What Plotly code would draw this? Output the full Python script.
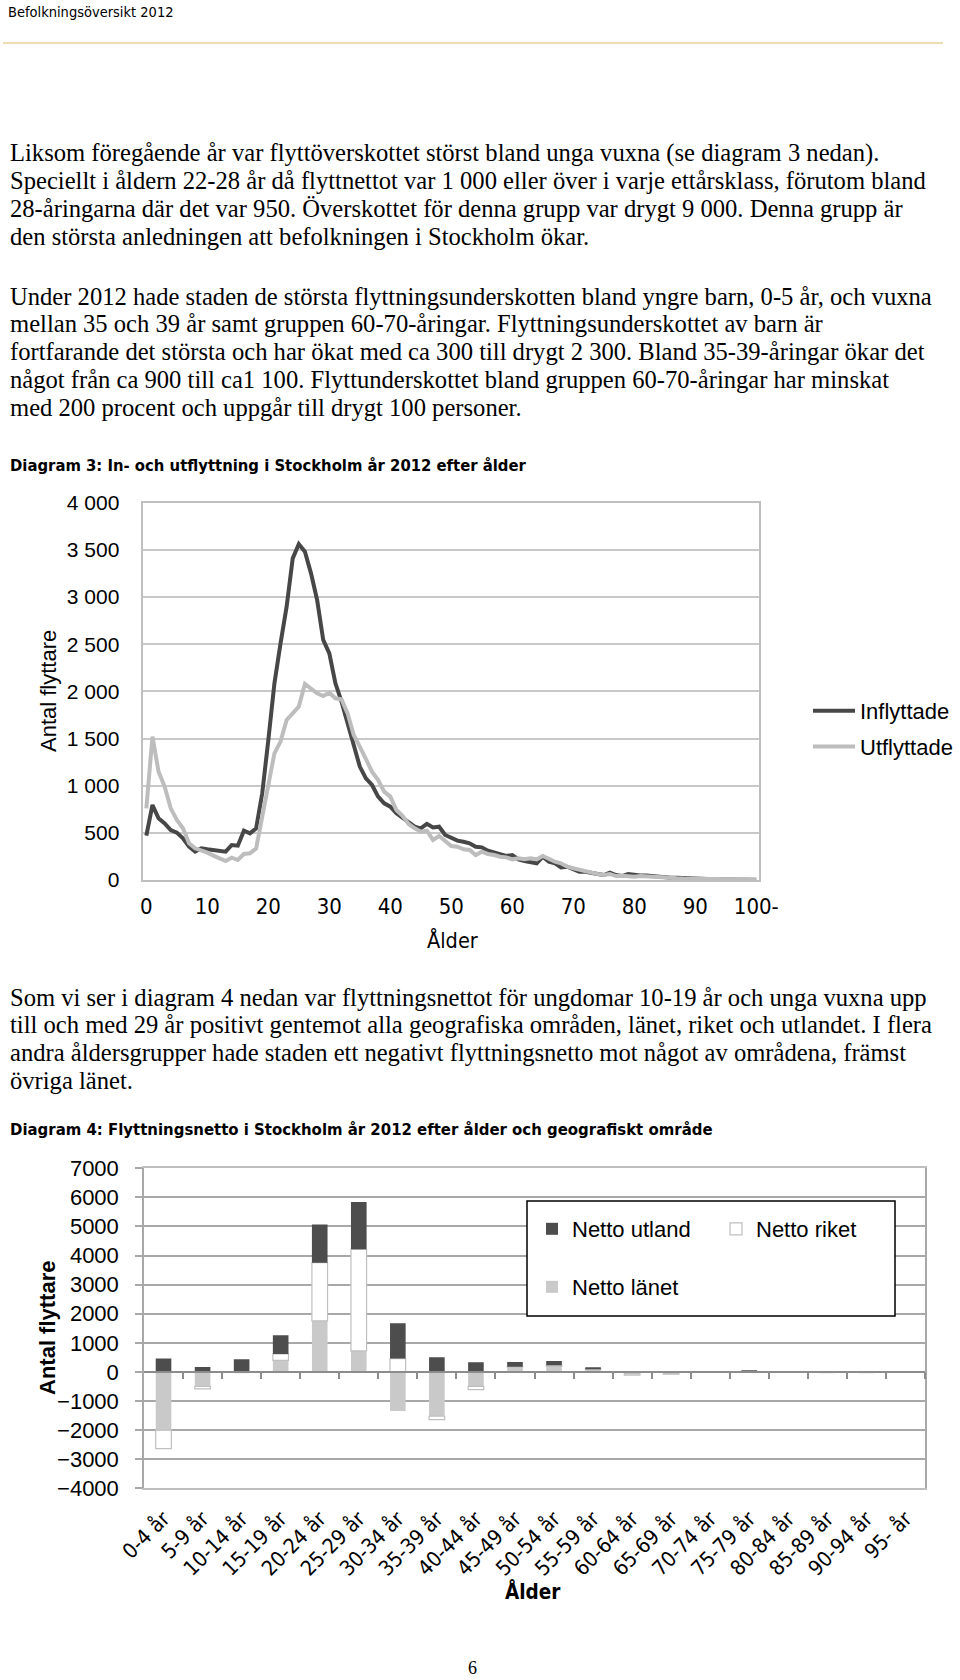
import plotly.graph_objects as go

W, H = 960, 1680


def px(x):
    return x / W


def py(y):
    return 1 - y / H


SERIF = "Liberation Serif, Times New Roman, serif"
SANS = "Liberation Sans, Arial, sans-serif"
NARROW = "DejaVu Sans Condensed, Liberation Sans Narrow, Arial Narrow, sans-serif"

# ---------------- Diagram 3 data ----------------
ages = list(range(101))
inflyttade = [470, 795, 654, 600, 530, 502, 442, 353, 300, 336,
              325, 318, 311, 300, 371, 364, 523, 495, 548, 919,
              1484, 2085, 2509, 2898, 3410, 3562, 3481, 3251, 2969, 2545,
              2403, 2085, 1891, 1643, 1431, 1202, 1078, 1007, 884, 813,
              777, 707, 660, 600, 565, 548, 595, 558, 565, 477,
              452, 417, 406, 389, 353, 346, 311, 290, 265, 254,
              265, 219, 201, 187, 177, 247, 194, 177, 134, 141,
              113, 88, 88, 71, 64, 53, 78, 53, 42, 64,
              53, 49, 49, 42, 35, 28, 25, 25, 21, 18,
              14, 10, 8, 7, 5, 4, 3, 2, 2, 1, 2]
utflyttade = [760, 1520, 1149, 990, 760, 636, 548, 389, 336, 318,
              290, 258, 230, 201, 237, 212, 276, 283, 336, 671,
              1060, 1343, 1467, 1696, 1767, 1838, 2078, 2032, 1979, 1951,
              1986, 1926, 1915, 1767, 1537, 1414, 1290, 1149, 1060, 937,
              884, 742, 680, 594, 548, 512, 523, 424, 466, 406,
              360, 353, 325, 318, 265, 300, 276, 265, 247, 240,
              219, 230, 219, 230, 219, 254, 219, 194, 177, 141,
              124, 106, 88, 78, 64, 53, 64, 42, 46, 42,
              35, 42, 35, 35, 32, 25, 20, 18, 15, 14,
              12, 10, 8, 6, 5, 4, 3, 3, 2, 2, 3]
age_tickvals = [0, 10, 20, 30, 40, 50, 60, 70, 80, 90, 100]
age_ticktext = ["0", "10", "20", "30", "40", "50", "60", "70", "80", "90", "100-"]
y1_tickvals = [0, 500, 1000, 1500, 2000, 2500, 3000, 3500, 4000]
y1_ticktext = ["0", "500", "1 000", "1 500", "2 000", "2 500", "3 000", "3 500", "4 000"]

# ---------------- Diagram 4 data ----------------
groups = ["0-4 år", "5-9 år", "10-14 år", "15-19 år", "20-24 år", "25-29 år",
          "30-34 år", "35-39 år", "40-44 år", "45-49 år", "50-54 år", "55-59 år",
          "60-64 år", "65-69 år", "70-74 år", "75-79 år", "80-84 år", "85-89 år",
          "90-94 år", "95- år"]
netto_lanet = [-2005, -493, -30, 400, 1753, 722, -1340, -1523, -493, 172,
               200, 80, -60, -60, -10, 0, 0, -20, -30, 0]
netto_riket = [-630, -92, 10, 218, 2004, 3493, 458, -115, -115, 10,
               30, 20, -50, -20, 0, 0, 0, 0, 0, 0]
netto_utland = [458, 172, 430, 640, 1310, 1627, 1214, 504, 332, 160,
                150, 50, 20, 10, 10, 30, 0, 0, 0, 0]
y2_range = [-4000, 7000]
y2_tickvals = [-4000, -3000, -2000, -1000, 0, 1000, 2000, 3000, 4000, 5000, 6000, 7000]

fig = go.Figure()

# Diagram 3 lines
fig.add_trace(go.Scatter(x=ages, y=inflyttade, mode="lines", name="Inflyttade",
                         line=dict(color="#474747", width=4), xaxis="x", yaxis="y",
                         legend="legend", legendgroup="in"))
fig.add_trace(go.Scatter(x=ages, y=utflyttade, mode="lines", name="Utflyttade",
                         line=dict(color="#BDBDBD", width=4), xaxis="x", yaxis="y",
                         legend="legend", legendgroup="ut"))

# Diagram 4 stacked bars
fig.add_trace(go.Bar(x=groups, y=netto_lanet, name="Netto länet",
                     marker=dict(color="#C9C9C9", line=dict(width=0)),
                     xaxis="x2", yaxis="y2", legend="legend3"))
fig.add_trace(go.Bar(x=groups, y=netto_riket, name="Netto riket",
                     marker=dict(color="white", line=dict(color="#BFBFBF", width=1.2)),
                     xaxis="x2", yaxis="y2", legend="legend2", legendrank=2))
fig.add_trace(go.Bar(x=groups, y=netto_utland, name="Netto utland",
                     marker=dict(color="#4D4D4D", line=dict(width=0)),
                     xaxis="x2", yaxis="y2", legend="legend2", legendrank=1))
# carrier for the zero-line axis with category boundary ticks
fig.add_trace(go.Scatter(x=[], y=[], xaxis="x3", yaxis="y2", showlegend=False,
                         hoverinfo="skip"))

y1_dom = [py(880), py(502.7)]
y2_dom = [py(1488.3), py(1168.3)]
zero_pos = y2_dom[0] + (0 - y2_range[0]) / (y2_range[1] - y2_range[0]) * (y2_dom[1] - y2_dom[0])

fig.update_layout(
    width=W, height=H, margin=dict(l=0, r=0, t=0, b=0, autoexpand=False),
    paper_bgcolor="white", plot_bgcolor="white",
    barmode="relative", bargap=0.6,
    showlegend=True,
    xaxis=dict(domain=[px(143.3), px(759.3)], range=[-0.5, 100.5], anchor="y",
               tickmode="array", tickvals=age_tickvals, ticktext=age_ticktext,
               tickfont=dict(family=NARROW, size=22, color="black"),
               showgrid=False, zeroline=False, showline=True, mirror=True,
               linecolor="#BFBFBF", linewidth=1.5, ticks="", ticklabelstandoff=6),
    yaxis=dict(domain=y1_dom, range=[0, 4000], anchor="x",
               tickmode="array", tickvals=y1_tickvals, ticktext=y1_ticktext,
               tickfont=dict(family=SANS, size=21, color="black"),
               showgrid=True, gridcolor="#C8C8C8", gridwidth=1.5, zeroline=False,
               showline=True, mirror=True, linecolor="#BFBFBF", linewidth=1.5,
               ticks="", ticklabelstandoff=18),
    xaxis2=dict(domain=[px(144), px(925)], anchor="y2", type="category",
                tickangle=-45, tickfont=dict(family=NARROW, size=21, color="black"),
                showgrid=False, zeroline=False, showline=True, mirror=True,
                linecolor="#BFBFBF", linewidth=1.5, ticks="", ticklabelstandoff=8),
    yaxis2=dict(domain=y2_dom, range=y2_range, anchor="x2",
                tickmode="array", tickvals=y2_tickvals,
                tickfont=dict(family=SANS, size=22, color="black"),
                showgrid=True, gridcolor="#A8A8A8", gridwidth=1.5, zeroline=False,
                showline=True, mirror=True, linecolor="#A8A8A8", linewidth=1.5,
                ticks="outside", ticklen=7, tickcolor="#A8A8A8", tickwidth=1.5,
                ticklabelstandoff=12),
    xaxis3=dict(overlaying="x2", anchor="free", position=zero_pos, side="bottom",
                range=[-0.5, 19.5], tickmode="array",
                tickvals=[i + 0.5 for i in range(len(groups))],
                ticks="outside", ticklen=6, tickcolor="#8C8C8C", tickwidth=1.5,
                showticklabels=False, showgrid=False, zeroline=False,
                showline=True, linecolor="#8C8C8C", linewidth=1.5),
    legend=dict(x=px(808), y=py(690), xanchor="left", yanchor="top",
                font=dict(family=SANS, size=22, color="black"),
                itemwidth=42, tracegroupgap=4, traceorder="grouped",
                bgcolor="rgba(0,0,0,0)"),
    legend2=dict(x=px(532), y=py(1229), xanchor="left", yanchor="middle",
                 orientation="h", entrywidth=139,
                 font=dict(family=SANS, size=22, color="black"),
                 bgcolor="rgba(0,0,0,0)"),
    legend3=dict(x=px(532), y=py(1287), xanchor="left", yanchor="middle",
                 orientation="h",
                 font=dict(family=SANS, size=22, color="black"),
                 bgcolor="rgba(0,0,0,0)"),
)

shapes = [
    dict(type="line", xref="paper", yref="paper", x0=px(3), x1=px(943),
         y0=py(43), y1=py(43), line=dict(color="#EEDDB0", width=2)),
    dict(type="rect", xref="paper", yref="paper", x0=px(527), x1=px(895),
         y0=py(1316), y1=py(1201), line=dict(color="black", width=1.5),
         fillcolor="white", layer="above"),
]
fig.update_layout(shapes=shapes)

ann = []


def text(x, y, s, family=SERIF, size=24.6, xanchor="left", angle=0, bold=False):
    if bold:
        s = "<b>" + s + "</b>"
    ann.append(dict(x=px(x), y=py(y), xref="paper", yref="paper", text=s,
                    showarrow=False, xanchor=xanchor, yanchor="middle",
                    textangle=angle,
                    font=dict(family=family, size=size, color="black")))


text(6, 12, "Befolkningsöversikt 2012", family=NARROW, size=14.5)

para1 = [
    "Liksom föregående år var flyttöverskottet störst bland unga vuxna (se diagram 3 nedan).",
    "Speciellt i åldern 22-28 år då flyttnettot var 1 000 eller över i varje ettårsklass, förutom bland",
    "28-åringarna där det var 950. Överskottet för denna grupp var drygt 9 000. Denna grupp är",
    "den största anledningen att befolkningen i Stockholm ökar.",
]
for i, s in enumerate(para1):
    text(7.5, 153 + i * 27.8, s)

para2 = [
    "Under 2012 hade staden de största flyttningsunderskotten bland yngre barn, 0-5 år, och vuxna",
    "mellan 35 och 39 år samt gruppen 60-70-åringar. Flyttningsunderskottet av barn är",
    "fortfarande det största och har ökat med ca 300 till drygt 2 300. Bland 35-39-åringar ökar det",
    "något från ca 900 till ca1 100. Flyttunderskottet bland gruppen 60-70-åringar har minskat",
    "med 200 procent och uppgår till drygt 100 personer.",
]
for i, s in enumerate(para2):
    text(7.5, 296 + i * 27.8, s)

text(7.5, 465, "Diagram 3: In- och utflyttning i Stockholm år 2012 efter ålder",
     family=NARROW, size=16.5, bold=True)

para3 = [
    "Som vi ser i diagram 4 nedan var flyttningsnettot för ungdomar 10-19 år och unga vuxna upp",
    "till och med 29 år positivt gentemot alla geografiska områden, länet, riket och utlandet. I flera",
    "andra åldersgrupper hade staden ett negativt flyttningsnetto mot något av områdena, främst",
    "övriga länet.",
]
for i, s in enumerate(para3):
    text(7.5, 997 + i * 27.8, s)

text(7.5, 1129, "Diagram 4: Flyttningsnetto i Stockholm år 2012 efter ålder och geografiskt område",
     family=NARROW, size=16.6, bold=True)

# axis titles
text(48, 691, "Antal flyttare", family=SANS, size=22, xanchor="center", angle=-90)
text(452, 940, "Ålder", family=NARROW, size=21.5, xanchor="center")
text(47, 1328, "Antal flyttare", family=SANS, size=22, xanchor="center", angle=-90, bold=True)
text(533, 1591, "Ålder", family=NARROW, size=20.5, xanchor="center", bold=True)

text(472.5, 1668, "6", family=SERIF, size=18, xanchor="center")

fig.update_layout(annotations=ann)

fig.write_html("out.html")
